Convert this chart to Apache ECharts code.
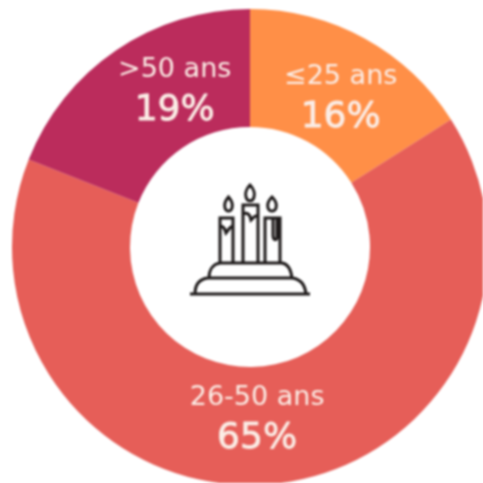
<!DOCTYPE html>
<html>
<head>
<meta charset="utf-8">
<style>
html,body{margin:0;padding:0;background:#fff;overflow:hidden}
#c{width:483px;height:483px;filter:blur(1px)}
</style>
<script src="https://cdn.jsdelivr.net/npm/echarts@6/dist/echarts.min.js"></script>
</head>
<body>
<div id="c"></div>
<script>
const categories = ['≤25 ans', '26-50 ans', '>50 ans'];
const values = [16, 65, 19];
const colors = ['#FF8F47', '#E65E58', '#BB2C5C'];
const labelShifts = [[3, 10], [-10, -10], [27, -6]];

const chart = echarts.init(document.getElementById('c'), null, {renderer: 'canvas'});
const iconPath =
  'M190 294H310 M195 294C195 285 199 279 208 278H292C301 279 305 285 306 294 ' +
  'M209 278C209 270 213 264 220 263H282C288 264 291 270 292 278 M211 278H278 ' +
  'M220 262V218H233V262 M243 262V205H258V262 M265 262V218H280V262 ' +
  'M220 226C224 226 225 229 226 233C228 231 229 227 233 226 ' +
  'M243 214C247 212 250 214 251 220C254 217 255 215 258 216 ' +
  'M273 218V235C273 240 276 241 277 238V218 ' +
  'M228.5 197C225 201 224 205 225 208C226 212 231 212 232 208C233 205 232 201 228.5 197Z ' +
  'M250 185C246 189 245 194 246 197C247 202 253 202 254 197C255 194 254 189 250 185Z ' +
  'M272 197C268 201 267 205 268 208C269 212 275 212 276 208C277 205 276 201 272 197Z';

chart.setOption({
  animation: false,
  backgroundColor: '#fff',
  series: [{
    type: 'pie',
    center: [250, 247],
    radius: [120, 238],
    startAngle: 90,
    clockwise: true,
    silent: true,
    itemStyle: {borderWidth: 0},
    labelLine: {show: false},
    label: {
      show: true,
      position: 'inside',
      formatter: p => '{a|' + p.name + '}\n{b|' + p.value + '%}',
      rich: {
        a: {fontFamily: 'DejaVu Sans', fontSize: 27, color: '#FBEDE6', lineHeight: 41, align: 'center'},
        b: {fontFamily: 'DejaVu Sans', fontSize: 36, color: '#FBEDE6', textBorderColor: '#FBEDE6', textBorderWidth: 0.8, lineHeight: 41, align: 'center'}
      }
    },
    labelLayout: p => ({dx: labelShifts[p.dataIndex][0], dy: labelShifts[p.dataIndex][1]}),
    data: categories.map((name, i) => ({
      name,
      value: values[i],
      itemStyle: {color: colors[i]}
    }))
  }, {
    type: 'custom',
    coordinateSystem: 'none',
    silent: true,
    data: [0],
    renderItem: () => ({
      type: 'path',
      shape: {pathData: iconPath},
      style: {fill: null, stroke: '#1d1919', lineWidth: 3}
    })
  }]
});
</script>
</body>
</html>
